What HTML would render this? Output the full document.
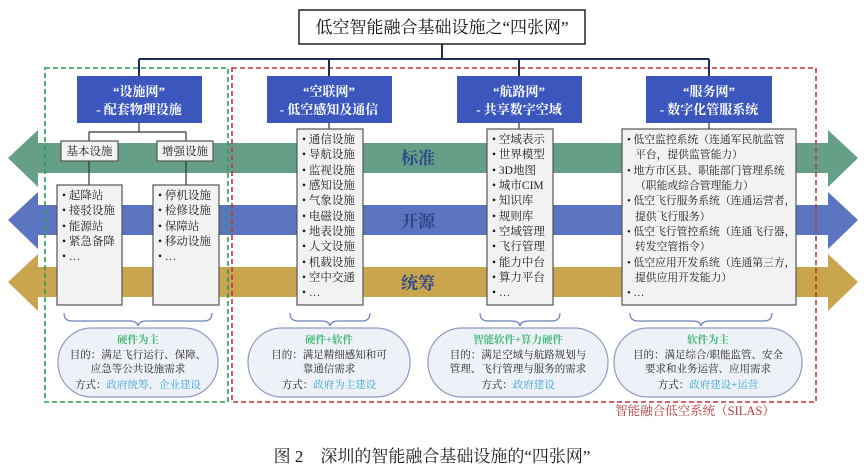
<!DOCTYPE html>
<html><head><meta charset="utf-8"><style>
html,body{margin:0;padding:0;background:#fff;}
svg{display:block;font-family:"Liberation Serif","Noto Serif CJK SC","Noto Sans CJK SC",serif;}
</style></head><body>
<svg width="864" height="471" viewBox="0 0 864 471" xmlns="http://www.w3.org/2000/svg">
<polygon points="8,158 38,130 38,143 828,143 828,130 858,158 828,187 828,173 38,173 38,187" fill="#669f88"/>
<polygon points="8,220 38,192 38,205 828,205 828,192 858,220 828,249 828,235 38,235 38,249" fill="#5a74bf"/>
<polygon points="8,282 38,254 38,267 828,267 828,254 858,282 828,311 828,297 38,297 38,311" fill="#c9a54e"/>
<g font-size="17" font-weight="bold" fill="#2c4686" text-anchor="middle">
<text x="418" y="164">标准</text><text x="418" y="227">开源</text><text x="418" y="289">统筹</text></g>

<rect x="45" y="68" width="183" height="334" fill="none" stroke="#2e9a5c" stroke-width="1.6" stroke-dasharray="5,3"/>
<rect x="232" y="68" width="584" height="334" fill="none" stroke="#c0373a" stroke-width="1.6" stroke-dasharray="5,3"/>
<text x="695" y="415" font-size="12.5" fill="#b8383a" text-anchor="middle">智能融合低空系统（SILAS）</text>

<rect x="299" y="10" width="286" height="34" fill="#fff" stroke="#222" stroke-width="1.5"/>
<text x="442" y="33" font-size="17" text-anchor="middle" fill="#111">低空智能融合基础设施之“四张网”</text>
<g stroke="#1e2c5a" stroke-width="2" fill="none">
<line x1="442" y1="44" x2="442" y2="59"/>
<line x1="139" y1="59" x2="709" y2="59"/>
<line x1="139" y1="59" x2="139" y2="76"/><line x1="329" y1="59" x2="329" y2="76"/>
<line x1="519" y1="59" x2="519" y2="76"/><line x1="709" y1="59" x2="709" y2="76"/></g>

<g fill="#3b57bd">
<rect x="77" y="76" width="125" height="47"/><rect x="267" y="76" width="125" height="47"/>
<rect x="457" y="76" width="125" height="47"/><rect x="646" y="76" width="126" height="47"/></g>
<g fill="#fff" font-size="13" font-weight="bold" text-anchor="middle">
<text x="139" y="96">“设施网”</text><text x="139" y="114">- 配套物理设施</text>
<text x="329" y="96">“空联网”</text><text x="329" y="114">- 低空感知及通信</text>
<text x="519" y="96">“航路网”</text><text x="519" y="114">- 共享数字空域</text>
<text x="709" y="96">“服务网”</text><text x="709" y="114">- 数字化管服系统</text></g>

<g stroke="#333" stroke-width="1.2" fill="none">
<line x1="139" y1="123" x2="139" y2="132"/><line x1="89" y1="132" x2="186" y2="132"/>
<line x1="89" y1="132" x2="89" y2="141"/><line x1="186" y1="132" x2="186" y2="141"/>
<line x1="89" y1="161" x2="89" y2="185"/><line x1="186" y1="161" x2="186" y2="185"/>
<line x1="329" y1="123" x2="329" y2="129"/><line x1="519" y1="123" x2="519" y2="129"/>
<line x1="709" y1="123" x2="709" y2="129"/></g>

<g fill="#f2f2f2" stroke="#555" stroke-width="1.2">
<rect x="61" y="141" width="57" height="20"/><rect x="157" y="141" width="56" height="20"/>
<rect x="57" y="185" width="65" height="120"/><rect x="153" y="185" width="66" height="120"/>
<rect x="297" y="129" width="66" height="176"/><rect x="487" y="129" width="66" height="176"/>
<rect x="622" y="129" width="174" height="176"/></g>
<g font-size="11.5" fill="#222">
<text x="89.5" y="155" text-anchor="middle">基本设施</text><text x="185" y="155" text-anchor="middle">增强设施</text>
<text x="62" y="199">• 起降站</text><text x="62" y="214">• 接驳设施</text><text x="62" y="230">• 能源站</text><text x="62" y="245">• 紧急备降</text><text x="62" y="260">• …</text>
<text x="158" y="199">• 停机设施</text><text x="158" y="214">• 检修设施</text><text x="158" y="230">• 保障站</text><text x="158" y="245">• 移动设施</text><text x="158" y="260">• …</text>
<text x="302" y="143">• 通信设施</text><text x="302" y="158">• 导航设施</text><text x="302" y="174">• 监视设施</text><text x="302" y="189">• 感知设施</text><text x="302" y="204">• 气象设施</text><text x="302" y="220">• 电磁设施</text><text x="302" y="235">• 地表设施</text><text x="302" y="250">• 人文设施</text><text x="302" y="266">• 机载设施</text><text x="302" y="281">• 空中交通</text><text x="302" y="296">• …</text>
<text x="492" y="143">• 空域表示</text><text x="492" y="158">• 世界模型</text><text x="492" y="174">• 3D地图</text><text x="492" y="189">• 城市CIM</text><text x="492" y="204">• 知识库</text><text x="492" y="220">• 规则库</text><text x="492" y="235">• 空域管理</text><text x="492" y="250">• 飞行管理</text><text x="492" y="266">• 能力中台</text><text x="492" y="281">• 算力平台</text><text x="492" y="296">• …</text>
<g font-size="10.8">
<text x="627" y="143">• 低空监控系统（连通军民航监管</text><text x="635" y="158">平台，提供监管能力）</text>
<text x="627" y="174">• 地方市区县、职能部门管理系统</text><text x="635" y="189">（职能或综合管理能力）</text>
<text x="627" y="204">• 低空飞行服务系统（连通运营者，</text><text x="635" y="220">提供飞行服务）</text>
<text x="627" y="235">• 低空飞行管控系统（连通飞行器，</text><text x="635" y="250">转发空管指令）</text>
<text x="627" y="266">• 低空应用开发系统（连通第三方，</text><text x="635" y="281">提供应用开发能力）</text>
<text x="627" y="296">• …</text></g></g>

<g stroke="#6a80b8" stroke-width="1.2" fill="none">
<path d="M64,313 q0,8 8,8 h58 q7,0 8,5 q1,-5 8,-5 h58 q8,0 8,-8"/>
<path d="M290,313 q0,8 8,8 h24 q7,0 8,5 q1,-5 8,-5 h24 q8,0 8,-8"/>
<path d="M480,313 q0,8 8,8 h24 q7,0 8,5 q1,-5 8,-5 h24 q8,0 8,-8"/>
<path d="M630,313 q0,8 8,8 h55 q7,0 8,5 q1,-5 8,-5 h55 q8,0 8,-8"/></g>

<g fill="#eef1f7" stroke="#8d9cc0" stroke-width="1.2">
<rect x="58" y="328" width="160" height="69" rx="34"/><rect x="248" y="328" width="162" height="69" rx="34"/>
<rect x="428" y="328" width="180" height="69" rx="34"/><rect x="614" y="328" width="188" height="69" rx="34"/></g>
<g font-size="10.5" text-anchor="middle" fill="#222">
<text x="138" y="343" fill="#3fb873" font-weight="bold">硬件为主</text>
<text x="138" y="358">目的：满足飞行运行、保障、</text><text x="138" y="372">应急等公共设施需求</text>
<text x="138" y="388">方式：<tspan fill="#3aa8d8">政府统筹、企业建设</tspan></text>
<text x="329" y="343" fill="#3fb873" font-weight="bold">硬件+软件</text>
<text x="329" y="358">目的：满足精细感知和可</text><text x="329" y="372">靠通信需求</text>
<text x="329" y="388">方式：<tspan fill="#3aa8d8">政府为主建设</tspan></text>
<text x="518" y="343" fill="#3fb873" font-weight="bold">智能软件+算力硬件</text>
<text x="518" y="358">目的：满足空域与航路规划与</text><text x="518" y="372">管理、飞行管理与服务的需求</text>
<text x="518" y="388">方式：<tspan fill="#3aa8d8">政府建设</tspan></text>
<text x="708" y="343" fill="#3fb873" font-weight="bold">软件为主</text>
<text x="708" y="358">目的：满足综合/职能监管、安全</text><text x="708" y="372">要求和业务运营、应用需求</text>
<text x="708" y="388">方式：<tspan fill="#3aa8d8">政府建设+运营</tspan></text></g>

<text x="432" y="462" font-size="17" text-anchor="middle" fill="#222">图 2　深圳的智能融合基础设施的“四张网”</text>
</svg>
</body></html>
